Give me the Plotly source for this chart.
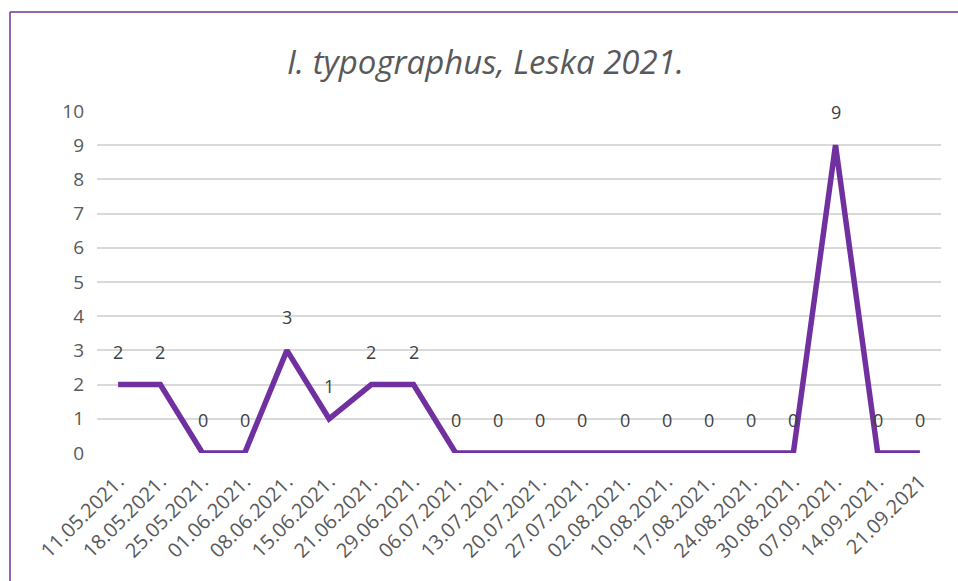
import plotly.graph_objects as go

dates = ["11.05.2021.", "18.05.2021.", "25.05.2021.", "01.06.2021.", "08.06.2021.",
         "15.06.2021.", "21.06.2021.", "29.06.2021.", "06.07.2021.", "13.07.2021.",
         "20.07.2021.", "27.07.2021.", "02.08.2021.", "10.08.2021.", "17.08.2021.",
         "24.08.2021.", "30.08.2021.", "07.09.2021.", "14.09.2021.", "21.09.2021"]
counts = [2, 2, 0, 0, 3, 1, 2, 2, 0, 0, 0, 0, 0, 0, 0, 0, 0, 9, 0, 0]
title_text = "I. typographus, Leska 2021."

PURPLE = "#7030A0"
GREY = "#595959"
FONT = "Open Sans"

W, H = 958, 581
L, R, T, B = 97, 17, 111, 128
pw, ph = W - L - R, H - T - B


def px(xp):
    return (xp - L) / pw


def py(yp):
    return (H - B - yp) / ph


fig = go.Figure()
fig.add_trace(go.Scatter(
    x=dates, y=counts, mode="lines",
    line=dict(color=PURPLE, width=5.5),
    hoverinfo="x+y", showlegend=False, cliponaxis=False,
))

for d, v in zip(dates, counts):
    fig.add_annotation(x=d, y=v, text=str(v), showarrow=False, yshift=33,
                       font=dict(family=FONT, size=18, color="#404040"))

fig.add_shape(type="line", xref="paper", yref="paper",
              x0=px(10), x1=px(10), y0=py(581), y1=py(12),
              line=dict(color=PURPLE, width=1.5))
fig.add_shape(type="line", xref="paper", yref="paper",
              x0=px(10), x1=px(958), y0=py(12), y1=py(12),
              line=dict(color=PURPLE, width=1.5))

fig.update_layout(
    width=W, height=H,
    margin=dict(l=L, r=R, t=T, b=B),
    paper_bgcolor="white", plot_bgcolor="white",
    title=dict(text=title_text, x=485.5 / W, xanchor="center",
               y=1 - 62 / H, yanchor="middle",
               font=dict(family=FONT, size=33, color=GREY, style="italic")),
    xaxis=dict(type="category", showgrid=False, zeroline=False, showline=False,
               ticks="", tickangle=-45,
               tickfont=dict(family=FONT, size=20, color=GREY),
               ticklabelstandoff=12,
               range=[-0.5, len(dates) - 0.5]),
    yaxis=dict(range=[0, 10], dtick=1, showgrid=True, gridcolor="#D9D9D9",
               gridwidth=1.5, zeroline=False, showline=False, ticks="",
               tickfont=dict(family=FONT, size=19, color=GREY),
               ticklabelstandoff=12),
)

fig.write_html("out.html",
               config={"displayModeBar": False},
               post_script="document.body.style.margin='0';document.body.style.overflow='hidden';")
